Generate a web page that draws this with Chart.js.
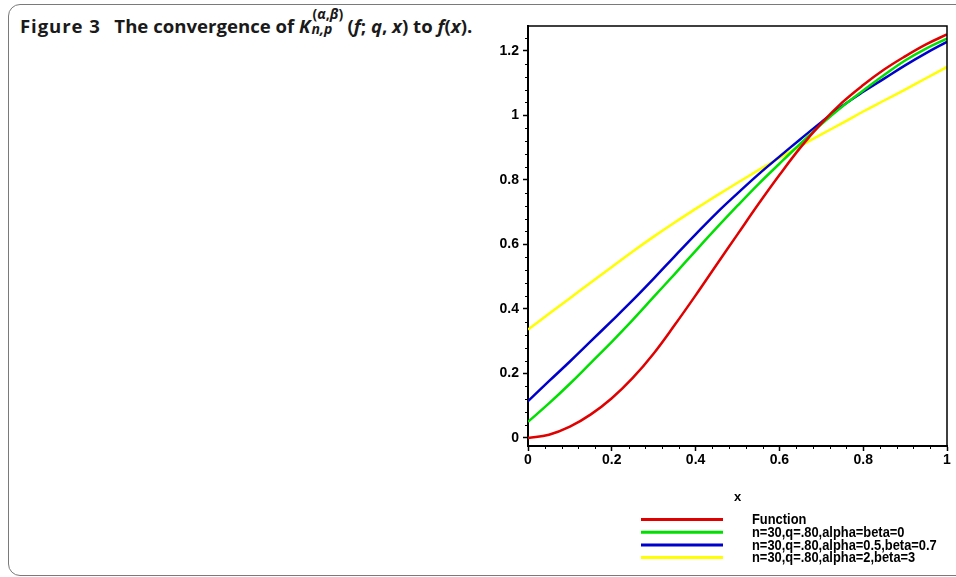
<!DOCTYPE html>
<html>
<head>
<meta charset="utf-8">
<script src="https://cdn.jsdelivr.net/npm/chart.js@4.4.1/dist/chart.umd.min.js"></script>
<style>
  html, body { margin: 0; padding: 0; background: #fff; }
  body { width: 956px; height: 577px; position: relative; overflow: hidden; }
  #frame { position: absolute; left: 8px; top: 4px; width: 990px; height: 572px; border: 1.5px solid #7a7a7a; border-radius: 12px; box-sizing: border-box; }
  #title { position: absolute; left: 20px; top: 13px; font-family: 'Open Sans', sans-serif; font-weight: 700; font-size: 18.6px; color: #1a1a1a; white-space: nowrap; }
  #title .fig { letter-spacing: 0.9px; margin-right: 4px; }
  #title .stack { display: inline-block; position: relative; min-width: 36px; font-size: 14px; margin-left: 1px; top: 1px; }
  #title .sup { position: absolute; left: 1px; top: -15px; white-space: nowrap; }
  #chart { position: absolute; left: 0; top: 0; }
</style>
</head>
<body>
<div id="frame"></div>
<div id="title"><span class="fig">Figure 3</span>&nbsp; The convergence of <i>K</i><span class="stack"><span class="sup">(<i>α</i>,<i>β</i>)</span><i>n,p</i></span>(<i>f</i>; <i>q</i>, <i>x</i>) to <i>f</i>(<i>x</i>).</div>
<canvas id="chart" width="956" height="577"></canvas>
<script>
// values, x step 0.05
const xValues = [0, 0.05, 0.1, 0.15, 0.2, 0.25, 0.3, 0.35, 0.4, 0.45, 0.5,
                 0.55, 0.6, 0.65, 0.7, 0.75, 0.8, 0.85, 0.9, 0.95, 1];
const functionValues = [0, 0.01, 0.035, 0.073, 0.123, 0.186, 0.262, 0.35, 0.442, 0.537, 0.631,
                        0.725, 0.815, 0.9, 0.975, 1.04, 1.094, 1.142, 1.183, 1.22, 1.251];
const alphaBeta0 = [0.05, 0.107, 0.168, 0.233, 0.298, 0.366, 0.437, 0.508, 0.58, 0.651, 0.72,
                    0.787, 0.85, 0.912, 0.972, 1.027, 1.077, 1.125, 1.17, 1.207, 1.238];
const alpha05beta07 = [0.114, 0.176, 0.237, 0.3, 0.363, 0.427, 0.494, 0.563, 0.631, 0.697, 0.758,
                       0.817, 0.872, 0.926, 0.979, 1.029, 1.073, 1.114, 1.155, 1.193, 1.228];
const alpha2beta3 = [0.336, 0.385, 0.433, 0.482, 0.53, 0.578, 0.624, 0.668, 0.71, 0.751, 0.791,
                     0.83, 0.868, 0.905, 0.941, 0.976, 1.012, 1.046, 1.08, 1.115, 1.15];

const seriesLabels = ['Function', 'n=30,q=.80,alpha=beta=0',
                      'n=30,q=.80,alpha=0.5,beta=0.7', 'n=30,q=.80,alpha=2,beta=3'];
const seriesColors = ['#e00000', '#00e000', '#0000cc', '#ffff00'];

const xTickValues = [0, 0.2, 0.4, 0.6, 0.8, 1];
const xTickLabels = ['0', '0.2', '0.4', '0.6', '0.8', '1'];
const yTickValues = [0, 0.2, 0.4, 0.6, 0.8, 1, 1.2];
const yTickLabels = ['0', '0.2', '0.4', '0.6', '0.8', '1', '1.2'];

const tickFont = { family: "'Liberation Sans', Arial, sans-serif", size: 14, weight: 'bold' };

const toPoints = (ys) => ys.map((y, i) => ({ x: xValues[i], y: y }));

// frame box + minor ticks + maple style legend
const plotExtras = {
  id: 'plotExtras',
  afterDraw(chart) {
    const ctx = chart.ctx;
    const area = chart.chartArea;
    const xs = chart.scales.x;
    const ys = chart.scales.y;

    ctx.save();
    ctx.strokeStyle = '#000';
    ctx.lineWidth = 1.5;
    ctx.beginPath();
    ctx.moveTo(area.left, area.top);
    ctx.lineTo(area.right, area.top);
    ctx.lineTo(area.right, area.bottom);
    ctx.stroke();

    ctx.lineWidth = 1;
    ctx.beginPath();
    for (let k = 1; k < 25; k++) {
      if (k % 5 === 0) continue;
      const px = Math.round(xs.getPixelForValue(k * 0.04)) + 0.5;
      ctx.moveTo(px, area.bottom);
      ctx.lineTo(px, area.bottom + 3);
    }
    for (let k = 1; k < 32; k++) {
      if (k % 5 === 0) continue;
      const py = Math.round(ys.getPixelForValue(k * 0.04)) + 0.5;
      ctx.moveTo(area.left, py);
      ctx.lineTo(area.left - 3, py);
    }
    ctx.stroke();

    // legend: swatches on the left, narrow bold text block on the right
    ctx.font = "bold 14px 'Liberation Sans', Arial, sans-serif";
    ctx.textBaseline = 'middle';
    ctx.fillStyle = '#000';
    chart.data.datasets.forEach((ds, i) => {
      const y = 519.5 + i * 12.7;
      ctx.strokeStyle = ds.borderColor;
      ctx.lineWidth = 3;
      ctx.beginPath();
      ctx.moveTo(641, y);
      ctx.lineTo(723, y);
      ctx.stroke();
      ctx.save();
      ctx.translate(752, y + 1);
      ctx.scale(0.92, 1);
      ctx.fillText(ds.label, 0, 0);
      ctx.restore();
    });
    ctx.restore();
  }
};

new Chart(document.getElementById('chart'), {
  type: 'line',
  data: {
    datasets: [functionValues, alphaBeta0, alpha05beta07, alpha2beta3].map((ys, i) => ({
      label: seriesLabels[i],
      data: toPoints(ys),
      borderColor: seriesColors[i],
      borderWidth: 2.5,
      pointRadius: 0,
      tension: 0.4,
      fill: false
    }))
  },
  options: {
    responsive: false,
    animation: false,
    layout: { padding: { left: 468, top: 26, right: 9, bottom: 72 } },
    plugins: {
      legend: { display: false },
      tooltip: { enabled: false }
    },
    scales: {
      x: {
        type: 'linear',
        min: 0,
        max: 1,
        afterBuildTicks: (s) => { s.ticks = xTickValues.map(v => ({ value: v })); },
        afterFit: (s) => { s.height = 59; },
        ticks: {
          autoSkip: false,
          maxRotation: 0,
          padding: 1,
          color: '#000',
          font: tickFont,
          callback: (v, i) => xTickLabels[i]
        },
        grid: { drawOnChartArea: false, drawTicks: true, tickLength: 5, tickColor: '#000', tickWidth: 1.5 },
        border: { display: true, color: '#000', width: 2 },
        title: {
          display: true,
          text: 'x',
          color: '#000',
          padding: 0,
          font: { family: "'Liberation Sans', Arial, sans-serif", size: 13, weight: 'bold' }
        }
      },
      y: {
        type: 'linear',
        min: -0.025,
        max: 1.277,
        afterBuildTicks: (s) => { s.ticks = yTickValues.map(v => ({ value: v })); },
        afterFit: (s) => { s.width = 60; },
        ticks: {
          autoSkip: false,
          padding: 4,
          color: '#000',
          font: tickFont,
          callback: (v, i) => yTickLabels[i]
        },
        grid: { drawOnChartArea: false, drawTicks: true, tickLength: 5, tickColor: '#000', tickWidth: 1.5 },
        border: { display: true, color: '#000', width: 2 }
      }
    }
  },
  plugins: [plotExtras]
});
</script>
</body>
</html>
